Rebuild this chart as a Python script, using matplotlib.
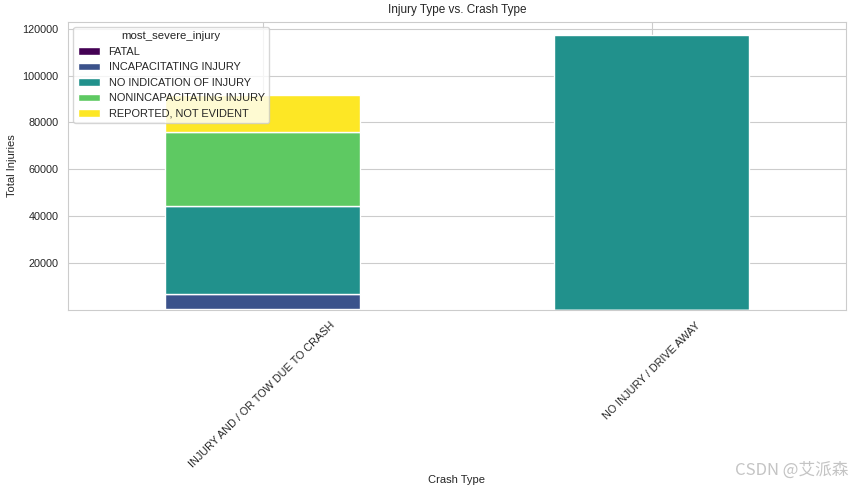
import matplotlib
matplotlib.use("Agg")
import matplotlib.pyplot as plt
import numpy as np
import pandas as pd
import seaborn as sns

crash_types = ["INJURY AND / OR TOW DUE TO CRASH", "NO INJURY / DRIVE AWAY"]
injury_levels = [
    "FATAL",
    "INCAPACITATING INJURY",
    "NO INDICATION OF INJURY",
    "NONINCAPACITATING INJURY",
    "REPORTED, NOT EVIDENT",
]
fatal = [350, np.nan]
incapacitating = [6590, np.nan]
no_indication = [37310, 117150]
nonincapacitating = [31490, np.nan]
reported = [15860, np.nan]

sns.set_style("whitegrid")
plt.rcParams["font.family"] = ["Liberation Sans", "DejaVu Sans"]

df = pd.DataFrame(
    dict(zip(injury_levels, [fatal, incapacitating, no_indication, nonincapacitating, reported])),
    index=crash_types,
)
df.index.name = "crash_type"
df.columns.name = "most_severe_injury"

fig = plt.figure(figsize=(8.52, 4.92), dpi=100)
ax = fig.add_axes([68 / 852, (492 - 310.3) / 492, 778 / 852, 288.8 / 492])
df.plot(kind="bar", stacked=True, colormap="viridis", ax=ax, width=0.5, edgecolor="white", linewidth=1)

ax.set_ylim(0, 123000)
ax.set_yticks([20000, 40000, 60000, 80000, 100000, 120000])
ax.tick_params(axis="both", labelsize=7.8)
ax.set_xticks(range(len(crash_types)))
ax.set_xticklabels(crash_types, rotation=45, ha="center")
ax.set_title("Injury Type vs. Crash Type", fontsize=8.5)
ax.set_xlabel("Crash Type", fontsize=8)
ax.set_ylabel("Total Injuries", fontsize=8)
leg = ax.legend(title="most_severe_injury", loc="upper left", fontsize=7.9, title_fontsize=8.2)

# watermark
fig.text(0.996, 0.045, "CSDN @艾派森", ha="right", va="center", fontsize=12, color="#c4c4c4",
         family=["Noto Sans CJK SC", "DejaVu Sans"])

fig.savefig("out.png", dpi=100)
